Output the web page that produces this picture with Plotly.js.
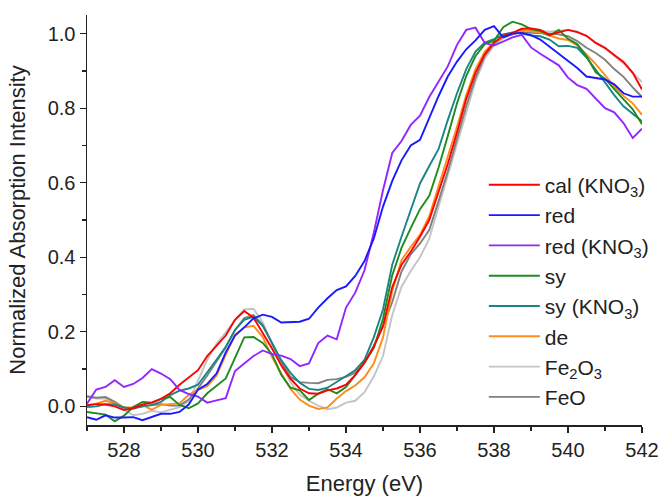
<!DOCTYPE html>
<html>
<head>
<meta charset="utf-8">
<script src="https://cdn.plot.ly/plotly-3.0.1.min.js"></script>
<style>html,body{margin:0;padding:0;background:#fff;}#chart{width:662px;height:498px;}</style>
</head>
<body>
<div id="chart"></div>
<script>
// Energy grid (eV)
const energy = [];
for (let i = 0; i <= 60; i++) energy.push(527 + i * 0.25);

const calKNO3 = [0.003,0.006,0.005,0.0,-0.01,-0.005,0.005,0.01,0.02,0.035,0.058,0.078,0.097,0.135,0.163,0.19,0.232,0.256,0.238,0.198,0.155,0.11,0.074,0.048,0.035,0.034,0.043,0.048,0.058,0.084,0.118,0.16,0.215,0.32,0.38,0.415,0.455,0.50,0.575,0.65,0.735,0.825,0.895,0.945,0.976,0.995,1.002,1.013,1.014,1.01,0.997,1.003,1.01,1.004,0.994,0.975,0.962,0.943,0.924,0.895,0.85];
const red = [-0.029,-0.036,-0.024,-0.03,-0.03,-0.029,-0.037,-0.028,-0.02,-0.02,-0.015,0.005,0.045,0.06,0.088,0.145,0.19,0.212,0.236,0.246,0.24,0.225,0.225,0.227,0.235,0.265,0.29,0.312,0.322,0.35,0.39,0.45,0.536,0.605,0.66,0.70,0.715,0.775,0.832,0.885,0.925,0.958,0.982,1.01,1.02,0.99,1.0,1.002,0.996,0.984,0.965,0.946,0.925,0.908,0.885,0.881,0.877,0.864,0.84,0.831,0.831];
const redKNO3 = [0.007,0.045,0.052,0.07,0.052,0.06,0.076,0.10,0.088,0.073,0.044,0.033,0.026,0.01,0.016,0.022,0.095,0.116,0.135,0.15,0.14,0.136,0.127,0.108,0.115,0.17,0.19,0.18,0.265,0.305,0.365,0.465,0.58,0.68,0.712,0.755,0.78,0.83,0.87,0.912,0.97,1.01,1.016,0.975,0.968,0.978,0.99,0.997,0.963,0.946,0.93,0.915,0.882,0.862,0.852,0.825,0.80,0.789,0.76,0.72,0.745];
const sy = [-0.015,-0.018,-0.022,-0.04,-0.025,-0.002,0.012,0.01,0.02,0.025,0.004,-0.005,0.008,0.035,0.055,0.075,0.13,0.185,0.186,0.17,0.14,0.085,0.05,0.043,0.017,0.034,0.046,0.035,0.052,0.083,0.117,0.156,0.235,0.352,0.425,0.478,0.529,0.565,0.64,0.725,0.813,0.887,0.94,0.972,0.981,1.017,1.032,1.025,1.012,1.007,0.995,1.01,0.986,0.972,0.939,0.896,0.879,0.851,0.823,0.797,0.757];
const syKNO3 = [-0.002,0.0,0.006,0.005,-0.003,-0.006,0.0,0.004,0.012,0.03,0.042,0.048,0.058,0.09,0.125,0.16,0.205,0.232,0.241,0.216,0.168,0.124,0.09,0.063,0.047,0.044,0.05,0.065,0.081,0.097,0.125,0.185,0.26,0.38,0.455,0.525,0.598,0.645,0.69,0.768,0.84,0.905,0.952,0.976,0.985,0.998,1.003,1.0,0.995,0.993,0.984,0.966,0.967,0.962,0.936,0.903,0.868,0.835,0.805,0.785,0.765];
const de = [0.003,0.007,0.015,0.008,-0.003,-0.002,0.003,-0.009,0.004,0.006,0.008,0.031,0.044,0.054,0.082,0.138,0.192,0.212,0.216,0.186,0.132,0.088,0.047,0.018,0.002,-0.007,-0.003,0.021,0.041,0.056,0.078,0.115,0.185,0.31,0.392,0.428,0.46,0.51,0.59,0.665,0.75,0.835,0.905,0.952,0.977,0.993,1.0,1.009,1.007,1.003,0.995,0.987,0.983,0.968,0.944,0.918,0.889,0.858,0.833,0.813,0.782];
const fe2o3 = [0.025,0.021,0.021,0.01,-0.009,-0.024,-0.02,-0.012,-0.016,-0.009,-0.002,0.013,0.07,0.125,0.168,0.198,0.232,0.26,0.262,0.225,0.167,0.113,0.065,0.031,0.015,0.002,-0.008,-0.003,0.01,0.015,0.038,0.08,0.135,0.245,0.321,0.363,0.40,0.45,0.535,0.62,0.703,0.792,0.872,0.933,0.968,0.988,0.999,1.008,1.01,1.008,1.005,1.008,1.01,1.006,0.993,0.976,0.96,0.94,0.92,0.895,0.87];
const feo = [0.027,0.023,0.025,0.012,-0.004,-0.004,0.0,0.003,0.006,0.002,0.002,0.018,0.048,0.083,0.12,0.158,0.205,0.237,0.245,0.218,0.17,0.12,0.079,0.065,0.063,0.062,0.071,0.073,0.079,0.09,0.118,0.162,0.215,0.28,0.362,0.408,0.437,0.473,0.55,0.63,0.718,0.806,0.882,0.94,0.973,0.992,0.998,1.004,1.002,1.0,1.0,0.998,0.993,0.98,0.962,0.948,0.93,0.905,0.884,0.856,0.83];

const names = ['cal (KNO<sub>3</sub>)','red','red (KNO<sub>3</sub>)','sy','sy (KNO<sub>3</sub>)','de','Fe<sub>2</sub>O<sub>3</sub>','FeO'];
const series = [calKNO3, red, redKNO3, sy, syKNO3, de, fe2o3, feo];
const colors = ['#ff0000','#1a1aff','#9326ff','#1f8c1f','#1a8585','#ff8c1a','#c4c4c4','#808080'];
// draw order: light ones underneath
const drawOrder = [6,7,5,4,3,0,2,1];

const traces = drawOrder.map(i => ({
  x: energy, y: series[i], type: 'scatter', mode: 'lines', name: names[i],
  legendrank: i + 1, legendgroup: 'g' + i,
  line: {color: colors[i], width: 1.9}
}));

const font = {family: 'Liberation Sans, Arial, sans-serif', color: '#222'};
const layout = {
  width: 662, height: 498,
  margin: {l: 87, r: 20, t: 15, b: 73, autoexpand: false},
  paper_bgcolor: '#fff', plot_bgcolor: '#fff',
  font: Object.assign({size: 20}, font),
  showlegend: true,
  legend: {x: 0.715, y: 0.635, xanchor: 'left', yanchor: 'top', bgcolor: 'rgba(0,0,0,0)',
    font: Object.assign({size: 21}, font), tracegroupgap: 1.3, itemwidth: 51, traceorder: 'normal'},
  xaxis: {
    range: [527, 542], tick0: 528, dtick: 2, ticks: 'outside', ticklen: 6, tickwidth: 1.3, automargin: false,
    tickcolor: '#222', showline: true, linecolor: '#222', linewidth: 1.5, showgrid: false, zeroline: false,
    tickfont: Object.assign({size: 20}, font),
    minor: {dtick: 1, ticks: 'outside', ticklen: 4, tickwidth: 1.2, tickcolor: '#222', showgrid: false},
    title: {text: 'Energy (eV)', font: Object.assign({size: 22}, font), standoff: 16}
  },
  yaxis: {
    range: [-0.05, 1.05], tick0: 0, dtick: 0.2, tickformat: '.1f', ticks: 'outside', ticklen: 6, tickwidth: 1.3, automargin: false,
    tickcolor: '#222', showline: true, linecolor: '#222', linewidth: 1.5, showgrid: false, zeroline: false,
    tickfont: Object.assign({size: 20}, font),
    minor: {dtick: 0.1, ticks: 'outside', ticklen: 4, tickwidth: 1.2, tickcolor: '#222', showgrid: false},
    title: {text: 'Normalized Absorption Intensity', font: Object.assign({size: 22}, font), standoff: 16}
  }
};

Plotly.newPlot('chart', traces, layout, {displayModeBar: false, staticPlot: true});
</script>
</body>
</html>
